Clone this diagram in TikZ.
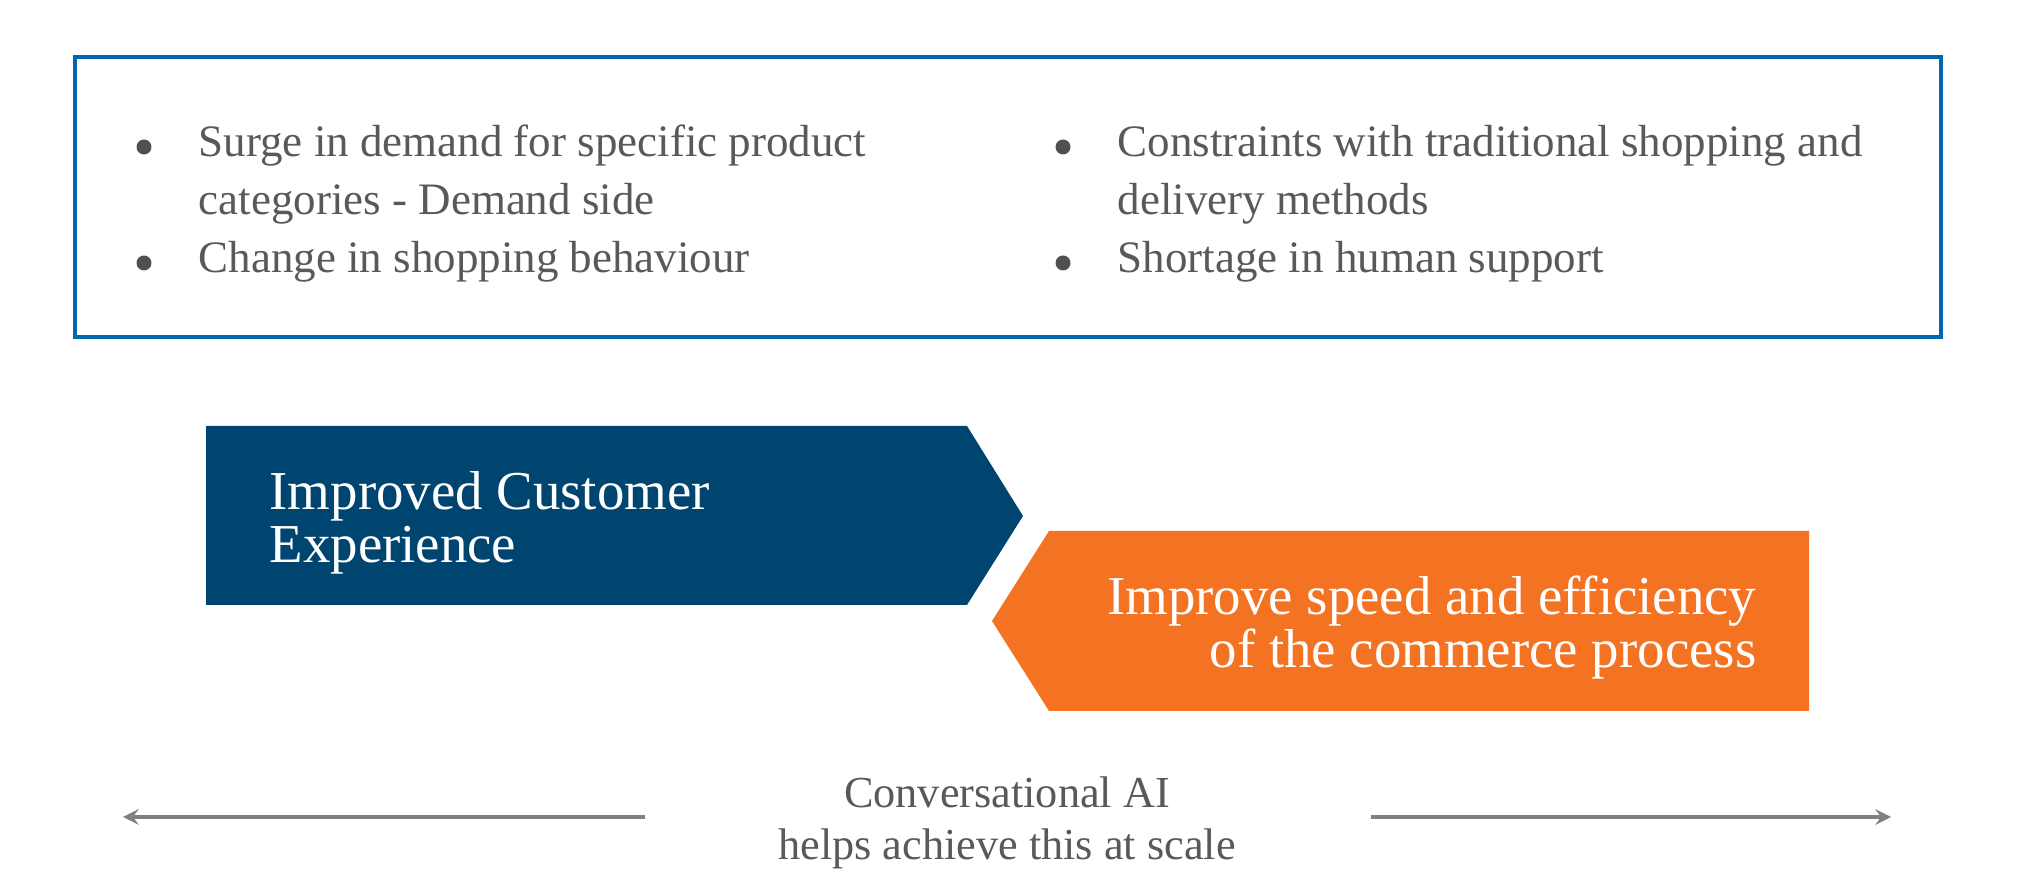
\documentclass[tikz,border=0pt]{standalone}
\usepackage{fontspec}
\setmainfont{Liberation Serif}
\usepackage{xcolor}
\usepackage{tikz}
\usetikzlibrary{arrows, positioning, calc}

\definecolor{framecol}{RGB}{0,104,173}
\definecolor{navycol}{RGB}{0,68,112}
\definecolor{orangecol}{RGB}{243,115,35}
\definecolor{textcol}{RGB}{89,89,89}
\definecolor{linecol}{RGB}{128,128,128}

\begin{document}
\begin{tikzpicture}[
    item/.style={inner sep=0pt, align=left, text=textcol, font=\fontsize{12.8}{16.5}\selectfont},
    dot/.style={circle, fill=textcol!90!black, inner sep=0pt, minimum size=0.15cm},
    banner/.style={inner sep=0pt, text=white, font=\fontsize{15.6}{15.1}\selectfont},
    note/.style={inner sep=0pt, align=center, text=textcol, font=\fontsize{12.6}{14.8}\selectfont},
    arrow/.style={line width=0.95pt, draw=linecol, ->, >=stealth}
]
    \useasboundingbox (0,0) rectangle (20.18,8.96);

    % frame with the four drivers (base anchor = last line)
    \draw [framecol, line width=1.15pt] (0.75,5.59) rectangle (19.41,8.39);
    \node [item, anchor=base west] (surge) at (1.98,6.81) {Surge in demand for specific product\\categories - Demand side};
    \node [item, anchor=base west] (change) at (1.98,6.23) {Change in shopping behaviour};
    \node [item, anchor=base west] (constraints) at (11.17,6.81) {Constraints with traditional shopping and\\delivery methods};
    \node [item, anchor=base west] (shortage) at (11.17,6.23) {Shortage in human support};
    \foreach \n/\up in {surge/0.68, change/0.10, constraints/0.68, shortage/0.10}
        \node [dot, xshift=-0.54cm, yshift=\up cm] (dot-\n) at (\n.base west) {};

    % the two chevrons
    \fill [navycol] (2.06,4.70) -- (9.67,4.70) -- (10.23,3.80) -- (9.67,2.91) -- (2.06,2.91) -- cycle;
    \fill [orangecol] (10.49,3.65) -- (18.09,3.65) -- (18.09,1.85) -- (10.49,1.85) -- (9.92,2.75) -- cycle;
    \node [banner, align=left, anchor=base west] (cx) at (2.69,3.33) {Improved Customer\\Experience};
    \node [banner, align=right, anchor=base east] (speed) at (17.57,2.28) {Improve speed and efficiency\\of the commerce process};

    % bottom line
    \node [note, anchor=base] (ai) at (10.07,0.36) {Conversational AI\\helps achieve this at scale};
    \coordinate (lstart) at (6.45,0.79);
    \coordinate (lend) at (1.23,0.79);
    \coordinate (rstart) at (13.71,0.79);
    \coordinate (rend) at (18.91,0.79);
    \draw [arrow] (lstart) -- (lend);
    \draw [arrow] (rstart) -- (rend);
\end{tikzpicture}
\end{document}
